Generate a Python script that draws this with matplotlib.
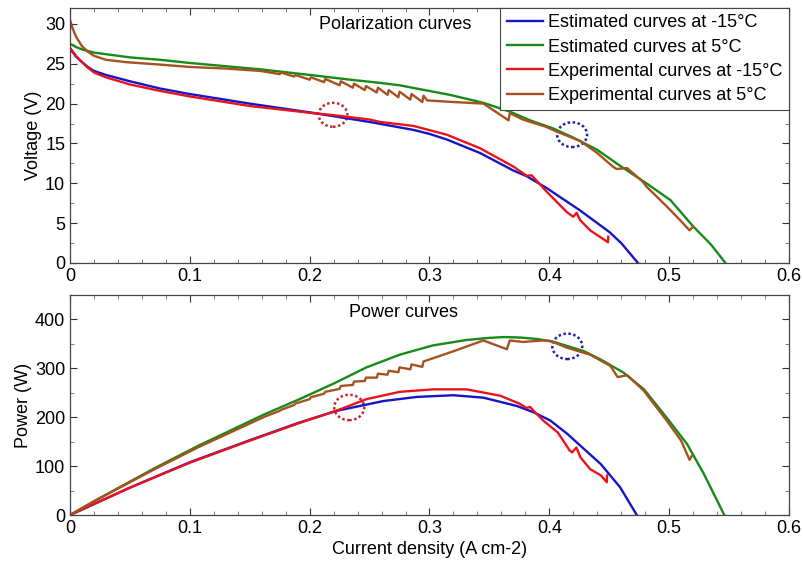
import matplotlib
matplotlib.use("Agg")
import matplotlib.pyplot as plt
import matplotlib.ticker as mticker
from matplotlib.patches import Ellipse

plt.rcParams.update({
    "font.family": ["Liberation Sans", "DejaVu Sans"],
    "font.size": 13,
    "xtick.direction": "in",
    "ytick.direction": "in",
    "xtick.top": True,
    "ytick.right": True,
})

BLUE = "#1414c8"
GREEN = "#178a17"
RED = "#e8141c"
BROWN = "#a5521f"

# ── Polarization data (current density A cm-2, voltage V) ─────────────────────
est_cold_j = [0, 0.0025, 0.005, 0.01, 0.015, 0.02, 0.03, 0.05, 0.075, 0.1, 0.15, 0.2,
              0.25, 0.2866, 0.3, 0.3144, 0.3422, 0.37, 0.381, 0.3978, 0.4256, 0.45,
              0.46, 0.474]
est_cold_v = [26.9, 26.4, 25.9, 25.2, 24.6, 24.1, 23.6, 22.8, 21.9, 21.2, 20.0, 18.9,
              17.7, 16.7, 16.2, 15.5, 13.8, 11.6, 10.9, 9.4, 6.6, 3.9,
              2.5, 0.0]

est_warm_j = [0, 0.005, 0.01, 0.02, 0.05, 0.075, 0.1, 0.159, 0.2, 0.234, 0.259, 0.275,
              0.317, 0.345, 0.367, 0.384, 0.403, 0.419, 0.44, 0.459, 0.481, 0.501,
              0.52, 0.535, 0.547]
est_warm_v = [27.5, 27.1, 26.8, 26.4, 25.8, 25.5, 25.1, 24.3, 23.6, 23.0, 22.6, 22.3,
              21.1, 20.1, 19.0, 17.9, 16.9, 15.8, 14.2, 12.2, 10.0, 7.9,
              4.6, 2.3, 0.0]

exp_cold_j = [0, 0.0025, 0.005, 0.01, 0.015, 0.02, 0.03, 0.05, 0.075, 0.1, 0.15, 0.2,
              0.21, 0.22, 0.25, 0.2588, 0.2866, 0.3144, 0.3422, 0.37, 0.3811, 0.3853,
              0.3978, 0.4145, 0.42, 0.4228, 0.4256, 0.434, 0.442, 0.449, 0.4492]
exp_cold_v = [27.0, 26.5, 26.0, 25.2, 24.5, 23.9, 23.3, 22.4, 21.6, 20.9, 19.7, 18.85,
              18.7, 18.55, 18.0, 17.7, 17.2, 16.1, 14.4, 12.1, 10.95, 11.0,
              8.95, 6.4, 5.8, 6.3, 5.4, 4.1, 3.3, 2.6, 3.3]

exp_warm_j = [0, 0.002, 0.005, 0.01, 0.015, 0.02, 0.03, 0.047, 0.075, 0.1, 0.13, 0.159,
              0.175, 0.176, 0.187, 0.188, 0.200, 0.201, 0.212, 0.213, 0.225, 0.226,
              0.236, 0.237, 0.246, 0.247, 0.256, 0.257, 0.265, 0.266, 0.274, 0.275,
              0.284, 0.285, 0.294, 0.295, 0.298, 0.32, 0.345, 0.355, 0.366, 0.367,
              0.378, 0.397, 0.406, 0.426, 0.44, 0.453, 0.456, 0.465, 0.478, 0.481,
              0.498, 0.509, 0.517, 0.52]
exp_warm_v = [30.5, 29.5, 28.4, 27.2, 26.5, 26.0, 25.5, 25.2, 24.9, 24.6, 24.4, 24.1,
              23.7, 23.9, 23.4, 23.6, 23.0, 23.3, 22.7, 23.1, 22.3, 22.8,
              22.0, 22.5, 21.7, 22.2, 21.4, 22.0, 21.1, 21.7, 20.8, 21.5,
              20.5, 21.2, 20.2, 21.0, 20.4, 20.2, 20.0, 19.0, 17.9, 18.8,
              18.0, 17.1, 16.5, 15.3, 13.8, 12.1, 11.8, 11.9, 10.2, 9.6,
              7.1, 5.4, 4.1, 4.55]

# ── Power data (current density A cm-2, power W) ──────────────────────────────
pw_est_cold_j = [0, 0.05, 0.1, 0.15, 0.19, 0.2223, 0.2613, 0.2892, 0.32, 0.345,
                 0.373, 0.387, 0.401, 0.415, 0.443, 0.459, 0.473]
pw_est_cold_p = [0, 56, 108, 153, 188, 213, 233, 241.5, 245, 240,
                 223, 210, 193, 166, 104, 57, 0]

pw_est_warm_j = [0, 0.02, 0.04, 0.07, 0.1065, 0.1623, 0.1916, 0.221, 0.2474, 0.2753,
                 0.303, 0.331, 0.348, 0.362, 0.376, 0.39, 0.404, 0.429, 0.443, 0.462,
                 0.479, 0.498, 0.515, 0.529, 0.546]
pw_est_warm_p = [0, 28, 55, 95, 141, 206, 237, 270, 302, 328,
                 347, 358, 362, 364, 363, 360, 354, 335, 318, 291,
                 257, 199, 145, 84, 0]

pw_exp_cold_j = [0, 0.05, 0.1, 0.15, 0.19, 0.222, 0.2474, 0.2753, 0.303, 0.331,
                 0.359, 0.375, 0.381, 0.384, 0.387, 0.395, 0.407, 0.417, 0.419,
                 0.4226, 0.426, 0.434, 0.443, 0.448, 0.4482]
pw_exp_cold_p = [0, 56, 107, 152, 187, 213, 237, 252, 257, 257,
                 244, 228, 219, 221, 213, 193, 169, 132, 128,
                 138, 118, 94, 81, 67, 81]

pw_exp_warm_j = [0, 0.02, 0.04, 0.07, 0.1065, 0.1623, 0.175, 0.176, 0.187, 0.188,
                 0.200, 0.201, 0.212, 0.213, 0.225, 0.226, 0.236, 0.237, 0.246, 0.247,
                 0.256, 0.257, 0.265, 0.266, 0.274, 0.275, 0.284, 0.285, 0.294, 0.295,
                 0.32, 0.345, 0.3646, 0.367, 0.378, 0.395, 0.401, 0.415, 0.434, 0.451,
                 0.457, 0.465, 0.479, 0.482, 0.498, 0.51, 0.517, 0.519]
pw_exp_warm_p = [0, 28, 54, 93, 138, 201, 213, 215, 225, 228,
                 237, 241, 248, 252, 258, 264, 266, 273, 274, 281,
                 281, 289, 287, 295, 292, 302, 298, 308, 303, 314,
                 335, 357, 339, 357, 354, 357, 356, 342, 328, 305,
                 282, 286, 254, 244, 193, 152, 113, 121]

labels = ["Estimated curves at -15°C", "Estimated curves at 5°C",
          "Experimental curves at -15°C", "Experimental curves at 5°C"]

# ── Figure ────────────────────────────────────────────────────────────────────
fig = plt.figure(figsize=(8.04, 5.67), dpi=100)
ax1 = fig.add_axes([0.0871, 0.5362, 0.8942, 0.4497])
ax2 = fig.add_axes([0.0871, 0.0917, 0.8942, 0.3880])

LW = 1.7
ax1.plot(est_cold_j, est_cold_v, color=BLUE, lw=LW, label=labels[0])
ax1.plot(est_warm_j, est_warm_v, color=GREEN, lw=LW, label=labels[1])
ax1.plot(exp_cold_j, exp_cold_v, color=RED, lw=LW, label=labels[2])
ax1.plot(exp_warm_j, exp_warm_v, color=BROWN, lw=LW, label=labels[3])

ax2.plot(pw_est_cold_j, pw_est_cold_p, color=BLUE, lw=LW)
ax2.plot(pw_est_warm_j, pw_est_warm_p, color=GREEN, lw=LW)
ax2.plot(pw_exp_cold_j, pw_exp_cold_p, color=RED, lw=LW)
ax2.plot(pw_exp_warm_j, pw_exp_warm_p, color=BROWN, lw=LW)

# dotted circles marking points of interest
ax1.add_patch(Ellipse((0.2195, 18.6), 0.024, 3.0, fill=False, ls=(0, (1, 1)),
                      lw=1.8, ec="#c0282e"))
ax1.add_patch(Ellipse((0.419, 16.1), 0.025, 3.1, fill=False, ls=(0, (1, 1)),
                      lw=1.8, ec="#2020b0"))
ax2.add_patch(Ellipse((0.233, 220), 0.025, 52, fill=False, ls=(0, (1, 1)),
                      lw=1.8, ec="#c0282e"))
ax2.add_patch(Ellipse((0.415, 345), 0.025, 52, fill=False, ls=(0, (1, 1)),
                      lw=1.8, ec="#2020b0"))

for ax in (ax1, ax2):
    ax.set_xlim(0, 0.6)
    ax.xaxis.set_major_locator(mticker.MultipleLocator(0.1))
    ax.xaxis.set_minor_locator(mticker.MultipleLocator(0.02))
    ax.xaxis.set_major_formatter(mticker.FuncFormatter(lambda x, _: "0" if x == 0 else f"{x:.1f}"))
    ax.tick_params(which="major", length=5, width=0.8, color="#333")
    ax.tick_params(which="minor", length=3, width=0.6, color="#666")
    for s in ax.spines.values():
        s.set_color("#444")
        s.set_linewidth(0.9)

ax1.set_ylim(0, 32)
ax1.yaxis.set_major_locator(mticker.MultipleLocator(5))
ax1.yaxis.set_minor_locator(mticker.MultipleLocator(2.5))
ax1.set_ylabel("Voltage (V)", labelpad=2)
ax1.text(0.346, 0.937, "Polarization curves", transform=ax1.transAxes,
         ha="left", va="center")

ax2.set_ylim(0, 450)
ax2.yaxis.set_major_locator(mticker.MultipleLocator(100))
ax2.yaxis.set_minor_locator(mticker.MultipleLocator(50))
ax2.set_ylabel("Power (W)", labelpad=2)
ax2.set_xlabel("Current density (A cm-2)", labelpad=3)
ax2.text(0.388, 0.92, "Power curves", transform=ax2.transAxes,
         ha="left", va="center")

leg = ax1.legend(loc="upper right", borderaxespad=0, fancybox=False,
                 edgecolor="#444", framealpha=1, handlelength=2.0,
                 handletextpad=0.3, labelspacing=0.4, borderpad=0.35)
leg.get_frame().set_linewidth(0.8)

fig.savefig("out.png", dpi=100)
